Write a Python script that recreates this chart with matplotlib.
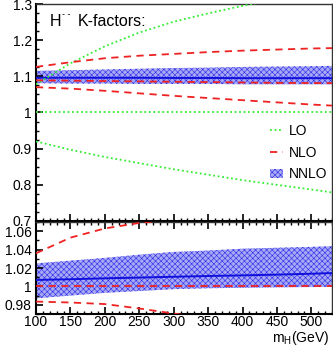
import matplotlib
matplotlib.use("Agg")
import matplotlib.pyplot as plt
from matplotlib.patches import Patch
from matplotlib.lines import Line2D
from matplotlib.ticker import MultipleLocator

plt.rcParams['font.family'] = ['Liberation Sans', 'DejaVu Sans']
plt.rcParams['hatch.linewidth'] = 0.4

mass = [100, 150, 200, 250, 300, 350, 400, 450, 500, 530]

# top panel: K-factors
lo_up = [1.078, 1.136, 1.183, 1.221, 1.251, 1.274, 1.295, 1.313, 1.330, 1.340]
lo_mid = [1.0] * 10
lo_dn = [0.920, 0.897, 0.877, 0.860, 0.843, 0.828, 0.813, 0.800, 0.787, 0.779]
nlo_up = [1.126, 1.139, 1.150, 1.157, 1.162, 1.167, 1.171, 1.174, 1.177, 1.178]
nlo_mid = [1.089, 1.088, 1.087, 1.086, 1.085, 1.084, 1.083, 1.082, 1.0815, 1.081]
nlo_dn = [1.070, 1.066, 1.060, 1.053, 1.046, 1.040, 1.034, 1.028, 1.022, 1.019]
nnlo_up = [1.115, 1.117, 1.119, 1.121, 1.123, 1.124, 1.126, 1.127, 1.128, 1.129]
nnlo_mid = [1.096, 1.096, 1.096, 1.096, 1.0955, 1.0955, 1.095, 1.095, 1.095, 1.095]
nnlo_dn = [1.081, 1.080, 1.080, 1.079, 1.079, 1.079, 1.078, 1.078, 1.078, 1.078]

# bottom panel: ratio to NLO
r_nlo_up = [1.036, 1.053, 1.063, 1.069, 1.073, 1.077, 1.080, 1.082, 1.084, 1.085]
r_nlo_mid = [1.0] * 10
r_nlo_dn = [0.9835, 0.9825, 0.9808, 0.976, 0.9705, 0.965, 0.960, 0.955, 0.950, 0.947]
r_nnlo_up = [1.025, 1.028, 1.031, 1.0345, 1.0375, 1.039, 1.041, 1.042, 1.043, 1.0437]
r_nnlo_mid = [1.007, 1.0078, 1.0088, 1.0096, 1.0105, 1.0113, 1.012, 1.0128, 1.0138, 1.0145]
r_nnlo_dn = [0.987, 0.990, 0.993, 0.995, 0.997, 0.998, 0.9985, 0.999, 0.9993, 0.9995]

green = '#33ee33'
red = '#ee2222'
blue = '#1010dd'
bandface = '#a8a8f4'
hatchcol = '#2a2aea'

fig = plt.figure(figsize=(3.33, 3.48), dpi=100)
ax1 = fig.add_axes([0.108, 0.365, 0.889, 0.6235])
ax2 = fig.add_axes([0.108, 0.0977, 0.889, 0.2643])

def band(ax, lo, hi):
    ax.fill_between(mass, lo, hi, facecolor=bandface, edgecolor=hatchcol,
                    hatch='xxxxxx', linewidth=0, zorder=1)

band(ax1, nnlo_dn, nnlo_up)
ax1.plot(mass, nnlo_mid, color=blue, lw=1.4, zorder=3)
for ys in (lo_up, lo_mid, lo_dn):
    ax1.plot(mass, ys, color=green, lw=1.3, ls=(0, (1, 1.5)), zorder=4)
for ys in (nlo_up, nlo_mid, nlo_dn):
    ax1.plot(mass, ys, color=red, lw=1.3, ls=(0, (4, 3)), zorder=4)

band(ax2, r_nnlo_dn, r_nnlo_up)
ax2.plot(mass, r_nnlo_mid, color=blue, lw=1.4, zorder=3)
for ys in (r_nlo_up, r_nlo_mid, r_nlo_dn):
    ax2.plot(mass, ys, color=red, lw=1.3, ls=(0, (4, 3)), zorder=4)

ax1.set_xlim(100, 530)
ax2.set_xlim(100, 530)
ax1.set_ylim(0.7, 1.3)
ax2.set_ylim(0.97, 1.07)

ax1.set_yticks([0.7, 0.8, 0.9, 1.0, 1.1, 1.2, 1.3])
ax1.set_yticklabels(['0.7', '0.8', '0.9', '1', '1.1', '1.2', '1.3'])
ax1.yaxis.set_minor_locator(MultipleLocator(0.025))
ax2.set_yticks([0.98, 1.0, 1.02, 1.04, 1.06])
ax2.set_yticklabels(['0.98', '1', '1.02', '1.04', '1.06'])
ax2.yaxis.set_minor_locator(MultipleLocator(0.01))
for ax in (ax1, ax2):
    ax.set_xticks([100, 150, 200, 250, 300, 350, 400, 450, 500])
    ax.xaxis.set_minor_locator(MultipleLocator(10))
    ax.tick_params(axis='both', which='major', direction='in', length=5, width=1.2,
                   labelsize=10, pad=3)
    ax.tick_params(axis='both', which='minor', direction='in', length=2.5, width=1.0)
    ax.tick_params(axis='y', which='both', left=True, right=False)
    for s in ('left', 'bottom'):
        ax.spines[s].set_linewidth(1.5)
    for s in ('top', 'right'):
        ax.spines[s].set_linewidth(1.0)
        ax.spines[s].set_color('#333333')
ax1.tick_params(axis='x', which='both', bottom=True, top=False, labelbottom=False)
ax2.tick_params(axis='x', which='both', bottom=True, top=True, labelbottom=True)
ax2.tick_params(axis='x', which='major', pad=1)

ax1.text(0.048, 0.955, 'H', transform=ax1.transAxes,
         fontsize=11.5, ha='left', va='top')
ax1.text(0.088, 0.972, '- -', transform=ax1.transAxes,
         fontsize=6.5, ha='left', va='top')
ax1.text(0.14, 0.955, 'K-factors:', transform=ax1.transAxes,
         fontsize=11.5, ha='left', va='top')

handles = [Line2D([], [], color=green, lw=1.3, ls=(0, (1, 1.5))),
           Line2D([], [], color=red, lw=1.3, ls=(0, (4, 3))),
           Patch(facecolor=bandface, edgecolor=hatchcol, hatch='xxxxxx', linewidth=0)]
ax1.legend(handles, ['LO', 'NLO', 'NNLO'], loc='upper left',
           bbox_to_anchor=(0.79, 0.447), frameon=False, fontsize=10,
           handlelength=0.95, handletextpad=0.45, labelspacing=0.55,
           borderaxespad=0, borderpad=0)

fig.text(0.99, 0.003, 'm$_\\mathregular{H}$(GeV)', ha='right', va='bottom', fontsize=10)

fig.savefig('out.png', dpi=100)
